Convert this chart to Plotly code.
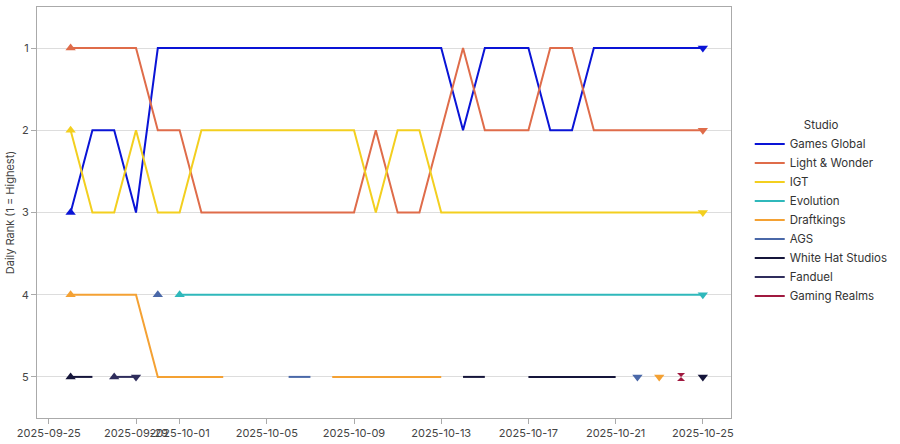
import plotly.graph_objects as go
import pandas as pd

dates = pd.date_range("2025-09-26", "2025-10-25", freq="D").strftime("%Y-%m-%d").tolist()
N = None

games_global = [3, 2, 2, 3, 1, 1, 1, 1, 1, 1, 1, 1, 1, 1, 1, 1, 1, 1, 2, 1, 1, 1, 2, 2, 1, 1, 1, 1, 1, 1]
light_wonder = [1, 1, 1, 1, 2, 2, 3, 3, 3, 3, 3, 3, 3, 3, 2, 3, 3, 2, 1, 2, 2, 2, 1, 1, 2, 2, 2, 2, 2, 2]
igt = [2, 3, 3, 2, 3, 3, 2, 2, 2, 2, 2, 2, 2, 2, 3, 2, 2, 3, 3, 3, 3, 3, 3, 3, 3, 3, 3, 3, 3, 3]
evolution = [N, N, N, N, N, 4, 4, 4, 4, 4, 4, 4, 4, 4, 4, 4, 4, 4, 4, 4, 4, 4, 4, 4, 4, 4, 4, 4, 4, 4]
draftkings = [4, 4, 4, 4, 5, 5, 5, 5, N, N, N, N, 5, 5, 5, 5, 5, 5, N, N, N, N, N, N, N, N, N, 5, N, N]
ags = [N, N, N, N, 4, N, N, N, N, N, 5, 5, N, N, N, N, N, N, N, N, N, N, N, N, N, N, 5, N, N, N]
white_hat = [5, 5, N, N, N, N, N, N, N, N, N, N, N, N, N, N, N, N, 5, 5, N, 5, 5, 5, 5, 5, N, N, N, 5]
fanduel = [N, N, 5, 5, N, N, N, N, N, N, N, N, N, N, N, N, N, N, N, N, N, N, N, N, N, N, N, N, N, N]
gaming_realms = [N, N, N, N, N, N, N, N, N, N, N, N, N, N, N, N, N, N, N, N, N, N, N, N, N, N, N, N, 5, N]

studios = ["Games Global", "Light & Wonder", "IGT", "Evolution", "Draftkings",
           "AGS", "White Hat Studios", "Fanduel", "Gaming Realms"]
series = [games_global, light_wonder, igt, evolution, draftkings,
          ags, white_hat, fanduel, gaming_realms]
colors = ["#0a14d6", "#df6c4a", "#f3cf1f", "#2fb8bb", "#f4a133",
          "#4a68a8", "#15153a", "#2f2d5c", "#a0193f"]

tick_vals = ["2025-09-25", "2025-09-29", "2025-10-01", "2025-10-05", "2025-10-09",
             "2025-10-13", "2025-10-17", "2025-10-21", "2025-10-25"]
rank_ticks = [1, 2, 3, 4, 5]

fig = go.Figure()
for name, vals, col in zip(studios, series, colors):
    fig.add_trace(go.Scatter(x=dates, y=vals, mode="lines", name=name,
                             line=dict(color=col, width=2), connectgaps=False))
for name, vals, col in zip(studios, series, colors):
    idx = [i for i, v in enumerate(vals) if v is not None]
    first, last = idx[0], idx[-1]
    if first == last:
        # start and end markers coincide (up + down triangle => hourglass)
        fig.add_trace(go.Scatter(x=[dates[first]], y=[vals[first]], mode="markers",
                                 marker=dict(symbol="hourglass", size=8, color=col),
                                 showlegend=False, hoverinfo="skip"))
        continue
    fig.add_trace(go.Scatter(x=[dates[first]], y=[vals[first]], mode="markers",
                             marker=dict(symbol="triangle-up", size=9, color=col),
                             showlegend=False, hoverinfo="skip"))
    fig.add_trace(go.Scatter(x=[dates[last]], y=[vals[last]], mode="markers",
                             marker=dict(symbol="triangle-down", size=9, color=col),
                             showlegend=False, hoverinfo="skip"))

fig.update_layout(
    template="simple_white",
    width=900, height=444,
    margin=dict(l=37, r=167, t=7, b=26),
    font=dict(family="Inter, Roboto, sans-serif", size=11, color="#444"),
    paper_bgcolor="white", plot_bgcolor="white",
    legend=dict(title=dict(text="Studio", side="top center", font=dict(size=11.5, color="#333")),
                x=1.027, xanchor="left", y=0.5, yanchor="middle",
                font=dict(size=11.5, color="#333"), tracegroupgap=0),
    showlegend=True,
)
fig.update_xaxes(type="date", range=["2025-09-24 11:00", "2025-10-26 07:00"],
                 tickvals=tick_vals, ticktext=tick_vals, tickangle=0, automargin=False,
                 showline=True, mirror=True, linecolor="#aaaaaa", linewidth=1,
                 ticks="outside", ticklen=5, tickcolor="#aaaaaa", showgrid=False,
                 tickfont=dict(size=11, color="#444"))
fig.update_yaxes(range=[5.5, 0.5], tickvals=rank_ticks, automargin=True,
                 title=dict(text="Daily Rank (1 = Highest)", font=dict(size=11, color="#444"), standoff=4),
                 showline=True, mirror=True, linecolor="#aaaaaa", linewidth=1,
                 ticks="outside", ticklen=5, tickcolor="#aaaaaa",
                 showgrid=True, gridcolor="#dddddd", gridwidth=1, zeroline=False,
                 tickfont=dict(size=11, color="#444"))

fig.write_html("out.html", config={"displayModeBar": False},
               post_script="document.body.style.margin='0';")
